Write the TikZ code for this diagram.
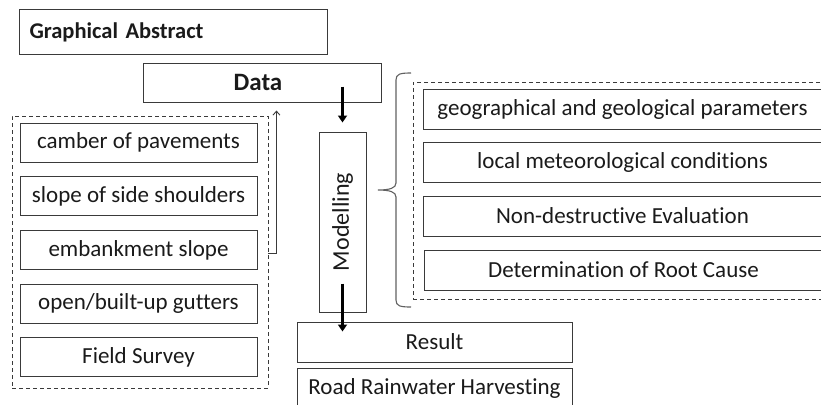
\documentclass[tikz,border=0pt]{standalone}
\usepackage{fontspec}
\setmainfont[Ligatures={NoCommon}]{Carlito}
\usetikzlibrary{arrows.meta,calc}
\definecolor{ln}{HTML}{3A3A3A}
\definecolor{tx}{HTML}{1A1A1A}
\tikzset{
  bx/.style={draw=ln, line width=1pt, inner sep=0pt, text=tx, font=\fontsize{23}{27}\selectfont},
  lbox/.style={bx, minimum width=237pt, minimum height=39pt},
  rbox/.style={bx, minimum width=399pt, minimum height=40pt},
  grp/.style={draw=ln, line width=0.9pt, dash pattern=on 4pt off 3pt},
  fat/.style={line width=3pt, draw=black, -{Triangle[length=7pt,width=9pt]}},
  thin/.style={line width=0.9pt, draw=ln, -{Straight Barb[length=4pt,width=7pt]}},
}
\begin{document}
\begin{tikzpicture}[x=1pt,y=-1pt]
\useasboundingbox (0,0) rectangle (821,404);
\clip (0,0) rectangle (821,404);
% title
\node[bx, minimum width=308pt, minimum height=45pt, anchor=north west, text width=298pt, align=left, font=\fontsize{22.5}{27}\selectfont\bfseries] (ga) at (19,9) {\hspace*{5pt}Graphical Abstract};
\node[bx, minimum width=238pt, minimum height=39pt, font=\fontsize{25}{29}\selectfont\bfseries] (data) at (262,82.5) {\hspace*{-8pt}Data};
% left group
\node[grp, minimum width=256pt, minimum height=272pt, inner sep=0pt] (lgrp) at (140,252) {};
\node[lbox] (camber) at (138.5,142.5) {camber of pavements};
\node[lbox] (slope) at (138.5,196) {slope of side shoulders};
\node[lbox] (emb) at (138.5,250) {embankment slope};
\node[lbox] (gut) at (138.5,303.5) {open/built-up gutters};
\node[lbox] (fs) at (138.5,357) {Field Survey};
% modelling
\node[bx, minimum width=47pt, minimum height=180pt] (model) at (342.5,222) {};
\node[text=tx, font=\fontsize{24}{28}\selectfont, rotate=90] (mtext) at (model.center) {Modelling};
% result
\node[bx, minimum width=275pt, minimum height=40pt] (res) at (434.5,342) {Result};
\node[bx, minimum width=275pt, minimum height=40pt] (rrh) at (434.5,388) {Road Rainwater Harvesting};
% right group
\node[grp, minimum width=417pt, minimum height=217pt, inner sep=0pt] (rgrp) at (621.5,190.5) {};
\node[rbox] (geo) at (622.5,109) {geographical and geological parameters};
\node[rbox] (met) at (622.5,162) {local meteorological conditions};
\node[rbox] (nde) at (622.5,216) {Non-destructive Evaluation};
\node[rbox] (root) at (623.5,270) {Determination of Root Cause};
% arrows
\draw[fat] ([yshift=16pt]data.south -| model.north) -- ([yshift=9pt]model.north);
\draw[fat] ([yshift=29pt]model.south) -- ([yshift=-10pt]res.north -| model.south);
\coordinate (dtip) at ([yshift=-8pt]data.south);
\draw[thin] (lgrp.east |- 0,253) -- ++(8,0) coordinate (c1) -- (c1 |- dtip);
% brace
\coordinate (btip) at (378,190);
\draw[draw=ln!80, line width=1.1pt] (411,73) .. controls (400,73) and (396,74) .. (396,80)
  -- (396,183) .. controls (396,188) and (390,190) .. (btip)
  .. controls (390,190) and (396,192) .. (396,197)
  -- (396,300) .. controls (396,306) and (400,307) .. (411,307);
\end{tikzpicture}
\end{document}
